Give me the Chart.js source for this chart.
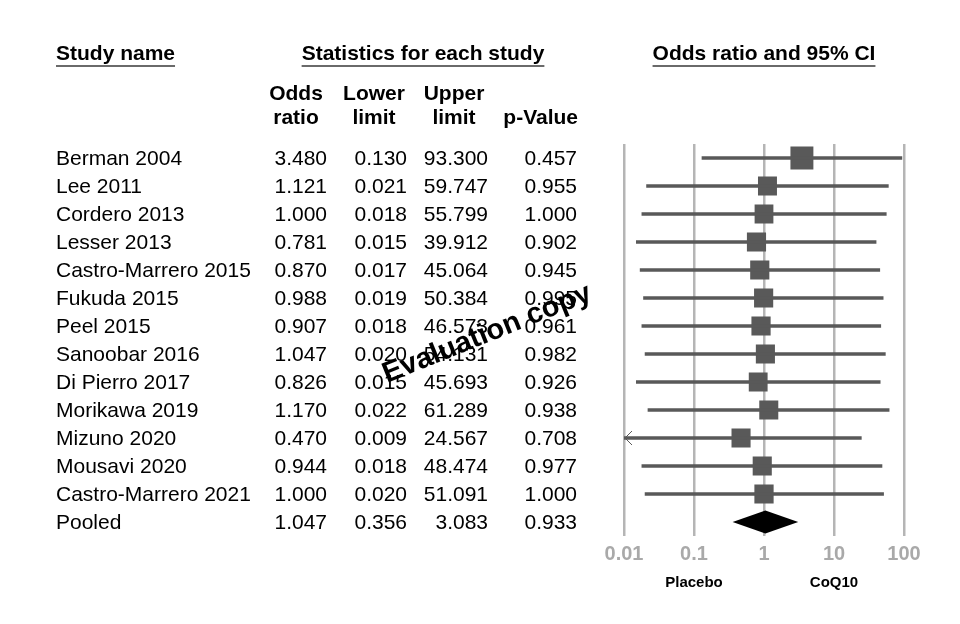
<!DOCTYPE html>
<html>
<head>
<meta charset="utf-8">
<script src="https://cdn.jsdelivr.net/npm/chart.js@4.4.1/dist/chart.umd.min.js"></script>
<style>
  html, body { margin: 0; padding: 0; background: #fff; }
  #wrap { width: 960px; height: 624px; }
</style>
</head>
<body>
<div id="wrap"><canvas id="forest" width="960" height="624"></canvas></div>
<script>
// Study rows (last row is the pooled estimate)
const studies = ["Berman 2004", "Lee 2011", "Cordero 2013", "Lesser 2013", "Castro-Marrero 2015",
  "Fukuda 2015", "Peel 2015", "Sanoobar 2016", "Di Pierro 2017", "Morikawa 2019",
  "Mizuno 2020", "Mousavi 2020", "Castro-Marrero 2021", "Pooled"];
const oddsRatio  = [3.480, 1.121, 1.000, 0.781, 0.870, 0.988, 0.907, 1.047, 0.826, 1.170, 0.470, 0.944, 1.000, 1.047];
const lowerLimit = [0.130, 0.021, 0.018, 0.015, 0.017, 0.019, 0.018, 0.020, 0.015, 0.022, 0.009, 0.018, 0.020, 0.356];
const upperLimit = [93.300, 59.747, 55.799, 39.912, 45.064, 50.384, 46.573, 54.131, 45.693, 61.289, 24.567, 48.474, 51.091, 3.083];
const pValue     = [0.457, 0.955, 1.000, 0.902, 0.945, 0.995, 0.961, 0.982, 0.926, 0.938, 0.708, 0.977, 1.000, 0.933];
const xTicks = [0.01, 0.1, 1, 10, 100];
const favourLabels = ["Placebo", "CoQ10"];

const pooledRow = studies.length - 1;
const FONT = "'Liberation Sans', Arial, sans-serif";
const markGray = "#595959";

// box side shrinks as the CI widens (weight ~ 1 / variance)
function boxRadius(i) {
  const width = Math.log10(upperLimit[i] / lowerLimit[i]);
  const side = 19 * 3.45 / width;
  return side / 2 / Math.SQRT1_2;
}

const ciBars = studies.map((s, i) => i === pooledRow ? null : [lowerLimit[i], upperLimit[i]]);
const boxes = studies.slice(0, pooledRow).map((s, i) => ({ x: oddsRatio[i], y: s }));

function fmt(v) { return v.toFixed(3); }

const forestText = {
  id: "forestText",
  afterDatasetsDraw(chart) {
    const ctx = chart.ctx, x = chart.scales.x, y = chart.scales.y;
    const area = chart.chartArea;
    ctx.save();
    // pooled diamond
    const py = y.getPixelForValue(pooledRow);
    ctx.fillStyle = "#000";
    ctx.beginPath();
    ctx.moveTo(x.getPixelForValue(lowerLimit[pooledRow]), py);
    ctx.lineTo(x.getPixelForValue(oddsRatio[pooledRow]), py - 11.5);
    ctx.lineTo(x.getPixelForValue(upperLimit[pooledRow]), py);
    ctx.lineTo(x.getPixelForValue(oddsRatio[pooledRow]), py + 11.5);
    ctx.closePath();
    ctx.fill();
    // arrows where the CI runs past the axis
    ctx.strokeStyle = markGray;
    ctx.lineWidth = 1;
    for (let i = 0; i < pooledRow; i++) {
      const ry = y.getPixelForValue(i);
      if (lowerLimit[i] < x.min) {
        ctx.beginPath();
        ctx.moveTo(area.left + 8, ry - 7);
        ctx.lineTo(area.left + 1, ry);
        ctx.lineTo(area.left + 8, ry + 7);
        ctx.stroke();
      }
      if (upperLimit[i] > x.max) {
        ctx.beginPath();
        ctx.moveTo(area.right - 8, ry - 7);
        ctx.lineTo(area.right - 1, ry);
        ctx.lineTo(area.right - 8, ry + 7);
        ctx.stroke();
      }
    }
    ctx.restore();
  },
  afterDraw(chart) {
    const ctx = chart.ctx, x = chart.scales.x, y = chart.scales.y;
    ctx.save();
    ctx.fillStyle = "#000";
    ctx.textBaseline = "middle";

    // section headings, underlined
    ctx.font = "bold 21px " + FONT;
    const heads = [["Study name", 56, "left"], ["Statistics for each study", 423, "center"],
      ["Odds ratio and 95% CI", 764, "center"]];
    heads.forEach(([t, hx, al]) => {
      ctx.textAlign = al;
      ctx.fillText(t, hx, 54);
      const w = ctx.measureText(t).width;
      const x0 = al === "left" ? hx : hx - w / 2;
      ctx.fillStyle = "#6a6a6a";
      ctx.fillRect(x0, 65, w, 2);
      ctx.fillStyle = "#000";
    });

    // column headings
    ctx.textAlign = "center";
    [["Odds", "ratio", 296], ["Lower", "limit", 374], ["Upper", "limit", 454]].forEach(([a, b, cx]) => {
      ctx.fillText(a, cx, 94);
      ctx.fillText(b, cx, 118);
    });
    ctx.textAlign = "right";
    ctx.fillText("p-Value", 578, 118);

    // rows
    ctx.font = "21px " + FONT;
    const colRight = [327, 407, 488, 577];
    studies.forEach((s, i) => {
      const ry = y.getPixelForValue(i) + 1;
      ctx.textAlign = "left";
      ctx.fillText(s, 56, ry);
      ctx.textAlign = "right";
      [oddsRatio[i], lowerLimit[i], upperLimit[i], pValue[i]].forEach((v, c) => {
        ctx.fillText(fmt(v), colRight[c], ry);
      });
    });

    // favours labels under the axis
    ctx.font = "bold 15px " + FONT;
    ctx.textAlign = "center";
    ctx.fillText(favourLabels[0], x.getPixelForValue(0.1), 583);
    ctx.fillText(favourLabels[1], x.getPixelForValue(10), 583);

    // watermark
    ctx.translate(487, 334);
    ctx.rotate(-22 * Math.PI / 180);
    ctx.font = "bold 29px " + FONT;
    ctx.fillText("Evaluation copy", 0, 0);
    ctx.restore();
  }
};

new Chart(document.getElementById("forest"), {
  type: "bar",
  data: {
    labels: studies,
    datasets: [
      {
        label: "95% CI",
        indexAxis: "y",
        data: ciBars,
        backgroundColor: markGray,
        barThickness: 3,
        borderSkipped: false
      },
      {
        type: "scatter",
        label: "Odds ratio",
        data: boxes,
        pointStyle: "rect",
        pointRadius: ctx => boxRadius(ctx.dataIndex),
        backgroundColor: markGray,
        borderWidth: 0
      }
    ]
  },
  options: {
    responsive: false,
    animation: false,
    layout: { padding: { left: 624, right: 56, top: 144, bottom: 54 } },
    plugins: { legend: { display: false }, tooltip: { enabled: false } },
    scales: {
      x: {
        type: "logarithmic",
        position: "bottom",
        min: 0.01,
        max: 100,
        offset: false,
        afterBuildTicks: scale => { scale.ticks = xTicks.map(v => ({ value: v })); },
        afterFit: scale => { scale.height = 34; },
        border: { display: false },
        grid: { color: "#b5b5b5", lineWidth: 2.5, drawTicks: false, offset: false },
        ticks: {
          padding: 6,
          color: "#a9a9a9",
          font: { family: FONT, size: 20, weight: "bold" },
          callback: v => String(v)
        }
      },
      y: {
        type: "category",
        display: false,
        offset: true,
        grid: { display: false }
      }
    }
  },
  plugins: [forestText]
});
</script>
</body>
</html>
